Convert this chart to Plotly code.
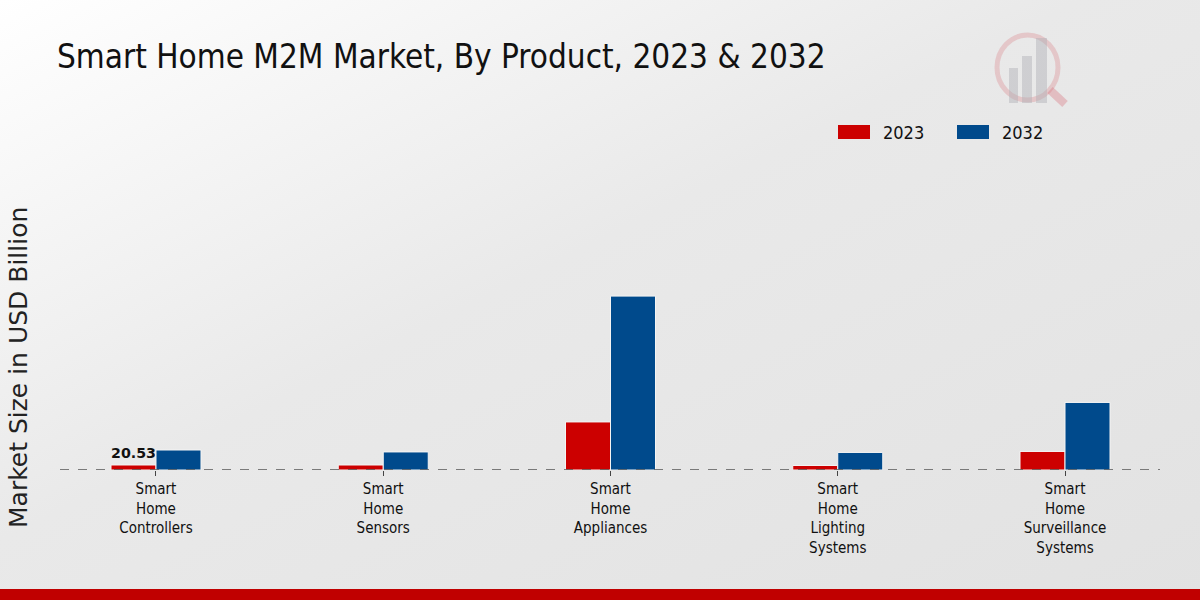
import plotly.graph_objects as go

categories = ["Smart<br>Home<br>Controllers", "Smart<br>Home<br>Sensors", "Smart<br>Home<br>Appliances",
              "Smart<br>Home<br>Lighting<br>Systems", "Smart<br>Home<br>Surveillance<br>Systems"]
values_2023 = [20.53, 20.5, 197, 18.5, 76]
values_2032 = [82, 74, 713, 72, 277]
labels_2023 = ["20.53", "", "", "", ""]
series_names = ["2023", "2032"]
series_colors = ["#cc0000", "#004a8c"]

FONT = "DejaVu Sans Condensed, DejaVu Sans, sans-serif"
xs = list(range(len(categories)))

# pixel -> paper helpers (plot area: x 60..1160, y 170..470)
def px(x):
    return (x - 60) / 1100

def py(y):
    return (470 - y) / 300

fig = go.Figure()
fig.add_trace(go.Bar(name=series_names[0], x=xs, y=values_2023,
                     marker=dict(color=series_colors[0], line=dict(color="#f4f4f4", width=1)),
                     text=labels_2023, textposition="outside", cliponaxis=False,
                     textfont=dict(family="DejaVu Sans, sans-serif", size=15, color="#111", weight="bold")))
fig.add_trace(go.Bar(name=series_names[1], x=xs, y=values_2032,
                     marker=dict(color=series_colors[1], line=dict(color="#f4f4f4", width=1))))

bg_svg = ("data:image/svg+xml;utf8,<svg xmlns='http://www.w3.org/2000/svg' width='1200' height='600'>"
          "<defs><linearGradient id='g' x1='0' y1='0' x2='1' y2='1'>"
          "<stop offset='0' stop-color='%23ffffff'/><stop offset='0.45' stop-color='%23e9e9e9'/>"
          "<stop offset='1' stop-color='%23e2e2e2'/></linearGradient></defs>"
          "<rect width='1200' height='600' fill='url(%23g)'/></svg>")

shapes = [
    dict(type="line", xref="paper", yref="y", x0=0, x1=1, y0=0, y1=0,
         line=dict(color="#555", width=1.3, dash="dash"), layer="above"),
    dict(type="rect", xref="paper", yref="paper", x0=px(0), x1=px(1200), y0=py(589), y1=py(600),
         fillcolor="#c00000", line=dict(width=0)),
    # faint logo
    dict(type="circle", xref="paper", yref="paper", x0=px(997), x1=px(1058), y0=py(100), y1=py(35),
         line=dict(color="rgba(215,110,120,0.28)", width=5)),
    dict(type="line", xref="paper", yref="paper", x0=px(1050), x1=px(1065), y0=py(90), y1=py(104),
         line=dict(color="rgba(215,110,120,0.35)", width=8)),
    dict(type="rect", xref="paper", yref="paper", x0=px(1009), x1=px(1018), y0=py(103), y1=py(68),
         fillcolor="rgba(175,175,182,0.45)", line=dict(width=0)),
    dict(type="rect", xref="paper", yref="paper", x0=px(1022), x1=px(1032), y0=py(103), y1=py(56),
         fillcolor="rgba(175,175,182,0.45)", line=dict(width=0)),
    dict(type="rect", xref="paper", yref="paper", x0=px(1036), x1=px(1047), y0=py(103), y1=py(38),
         fillcolor="rgba(175,175,182,0.45)", line=dict(width=0)),
]

annotations = [
    dict(text="Smart Home M2M Market, By Product, 2023 & 2032", xref="paper", yref="paper",
         x=px(55), y=py(57), xanchor="left", yanchor="middle", showarrow=False,
         font=dict(size=33, family=FONT, color="#111")),
    dict(text="Market Size in USD Billion", xref="paper", yref="paper",
         x=px(18), y=py(368), xanchor="center", yanchor="middle", showarrow=False,
         textangle=-90, font=dict(size=25, family="DejaVu Sans, sans-serif", color="#222")),
]

# custom legend (wide rectangles like the reference)
legend_x = [838, 957]
for name, color, lx in zip(series_names, series_colors, legend_x):
    shapes.append(dict(type="rect", xref="paper", yref="paper", x0=px(lx), x1=px(lx + 32),
                       y0=py(139), y1=py(125), fillcolor=color, line=dict(width=0)))
    annotations.append(dict(text=name, xref="paper", yref="paper", x=px(lx + 43), y=py(132),
                            xanchor="left", yanchor="middle", showarrow=False,
                            font=dict(size=18, family=FONT, color="#111")))

fig.update_layout(
    width=1200, height=600,
    margin=dict(l=60, r=40, t=170, b=130),
    paper_bgcolor="#e8e8e8", plot_bgcolor="rgba(0,0,0,0)",
    barmode="group", bargap=0.604, bargroupgap=0,
    font=dict(family=FONT, color="#111"),
    showlegend=False,
    xaxis=dict(range=[-0.4224, 4.418], tickmode="array", tickvals=xs, ticktext=categories,
               showgrid=False, zeroline=False, showline=False, ticks="outside", ticklen=5,
               tickcolor="#444", tickfont=dict(size=15, family=FONT, color="#111")),
    yaxis=dict(range=[0, 1230], showgrid=False, zeroline=False, showticklabels=False, showline=False),
    images=[dict(source=bg_svg, xref="paper", yref="paper", x=px(0), y=py(0),
                 sizex=1200 / 1100, sizey=600 / 300, xanchor="left", yanchor="top",
                 sizing="stretch", layer="below")],
    shapes=shapes,
    annotations=annotations,
)

fig.write_html("out.html")
